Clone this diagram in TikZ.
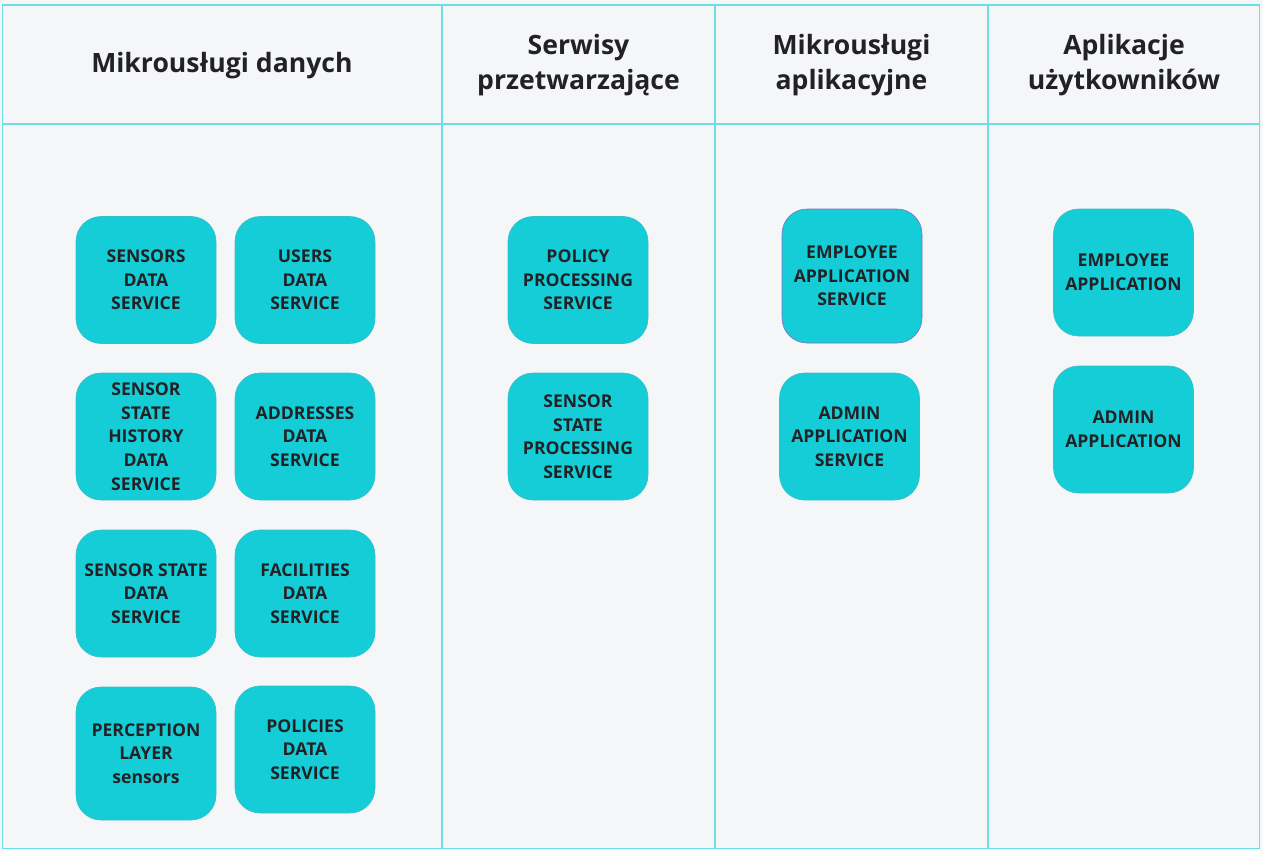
\documentclass[tikz,border=0pt]{standalone}
\usepackage{fontspec}
\setmainfont{Open Sans}
\definecolor{svcfill}{RGB}{20,205,214}
\definecolor{svcline}{RGB}{60,190,200}
\definecolor{gridline}{RGB}{110,222,230}
\definecolor{pagebg}{RGB}{245,246,248}
\definecolor{inktext}{RGB}{34,34,38}
\definecolor{selline}{RGB}{130,110,200}
\usetikzlibrary{positioning}

\begin{document}
\begin{tikzpicture}[x=1pt,y=-1pt,
  svc/.style={draw=svcline,line width=0.6pt,fill=svcfill,rounded corners=25pt,
              minimum width=140pt,minimum height=127pt,align=center,
              text=inktext,font=\bfseries\fontsize{17.6}{23.6}\selectfont,inner sep=1pt},
  head/.style={align=center,text=inktext,font=\bfseries\fontsize{26.6}{35}\selectfont}]
  % tlo i siatka
  \fill[pagebg] (0,0) rectangle (1263,851);
  \useasboundingbox (0,0) rectangle (1263,851);
  \draw[gridline,line width=1.4pt] (2.5,5) rectangle (1259.5,848.5);
  \draw[gridline,line width=1.4pt] (2.5,124) -- (1259.5,124);
  \foreach \x in {442,715,988}{
    \draw[gridline,line width=1.4pt] (\x,5) -- (\x,848.5);
  }
  % naglowki kolumn
  \node[head] (h1) at (222,65.5) {Mikrousługi danych};
  \node[head] (h2) at (578.5,65) {Serwisy\\przetwarzające};
  \node[head] (h3) at (851.5,65) {Mikrousługi\\aplikacyjne};
  \node[head] (h4) at (1124,65) {Aplikacje\\użytkowników};
  % mikrouslugi danych
  \node[svc] (sensors) at (146,280) {SENSORS\\DATA\\SERVICE};
  \node[svc] (users) at (305,280) {USERS\\DATA\\SERVICE};
  \node[svc] (history) at (146,436.5) {SENSOR\\STATE\\HISTORY\\DATA\\SERVICE};
  \node[svc] (addresses) at (305,436.5) {ADDRESSES\\DATA\\SERVICE};
  \node[svc] (state) at (146,593.5) {SENSOR STATE\\DATA\\SERVICE};
  \node[svc] (facilities) at (305,593.5) {FACILITIES\\DATA\\SERVICE};
  \node[svc,minimum height=133pt] (perception) at (146,753.5) {PERCEPTION\\LAYER\\sensors};
  \node[svc] (policies) at (305,749.5) {POLICIES\\DATA\\SERVICE};
  % serwisy przetwarzajace
  \node[svc] (policyproc) at (578,280) {POLICY\\PROCESSING\\SERVICE};
  \node[svc] (stateproc) at (578,436.5) {SENSOR\\STATE\\PROCESSING\\SERVICE};
  % mikrouslugi aplikacyjne
  \node[svc,draw=selline,minimum height=134pt] (empsvc) at (852,276) {EMPLOYEE\\APPLICATION\\SERVICE};
  \node[svc] (adminsvc) at (849.5,436.5) {ADMIN\\APPLICATION\\SERVICE};
  % aplikacje uzytkownikow
  \node[svc] (empapp) at (1123.5,272.5) {EMPLOYEE\\APPLICATION};
  \node[svc] (adminapp) at (1123.5,429.5) {ADMIN\\APPLICATION};
\end{tikzpicture}
\end{document}
